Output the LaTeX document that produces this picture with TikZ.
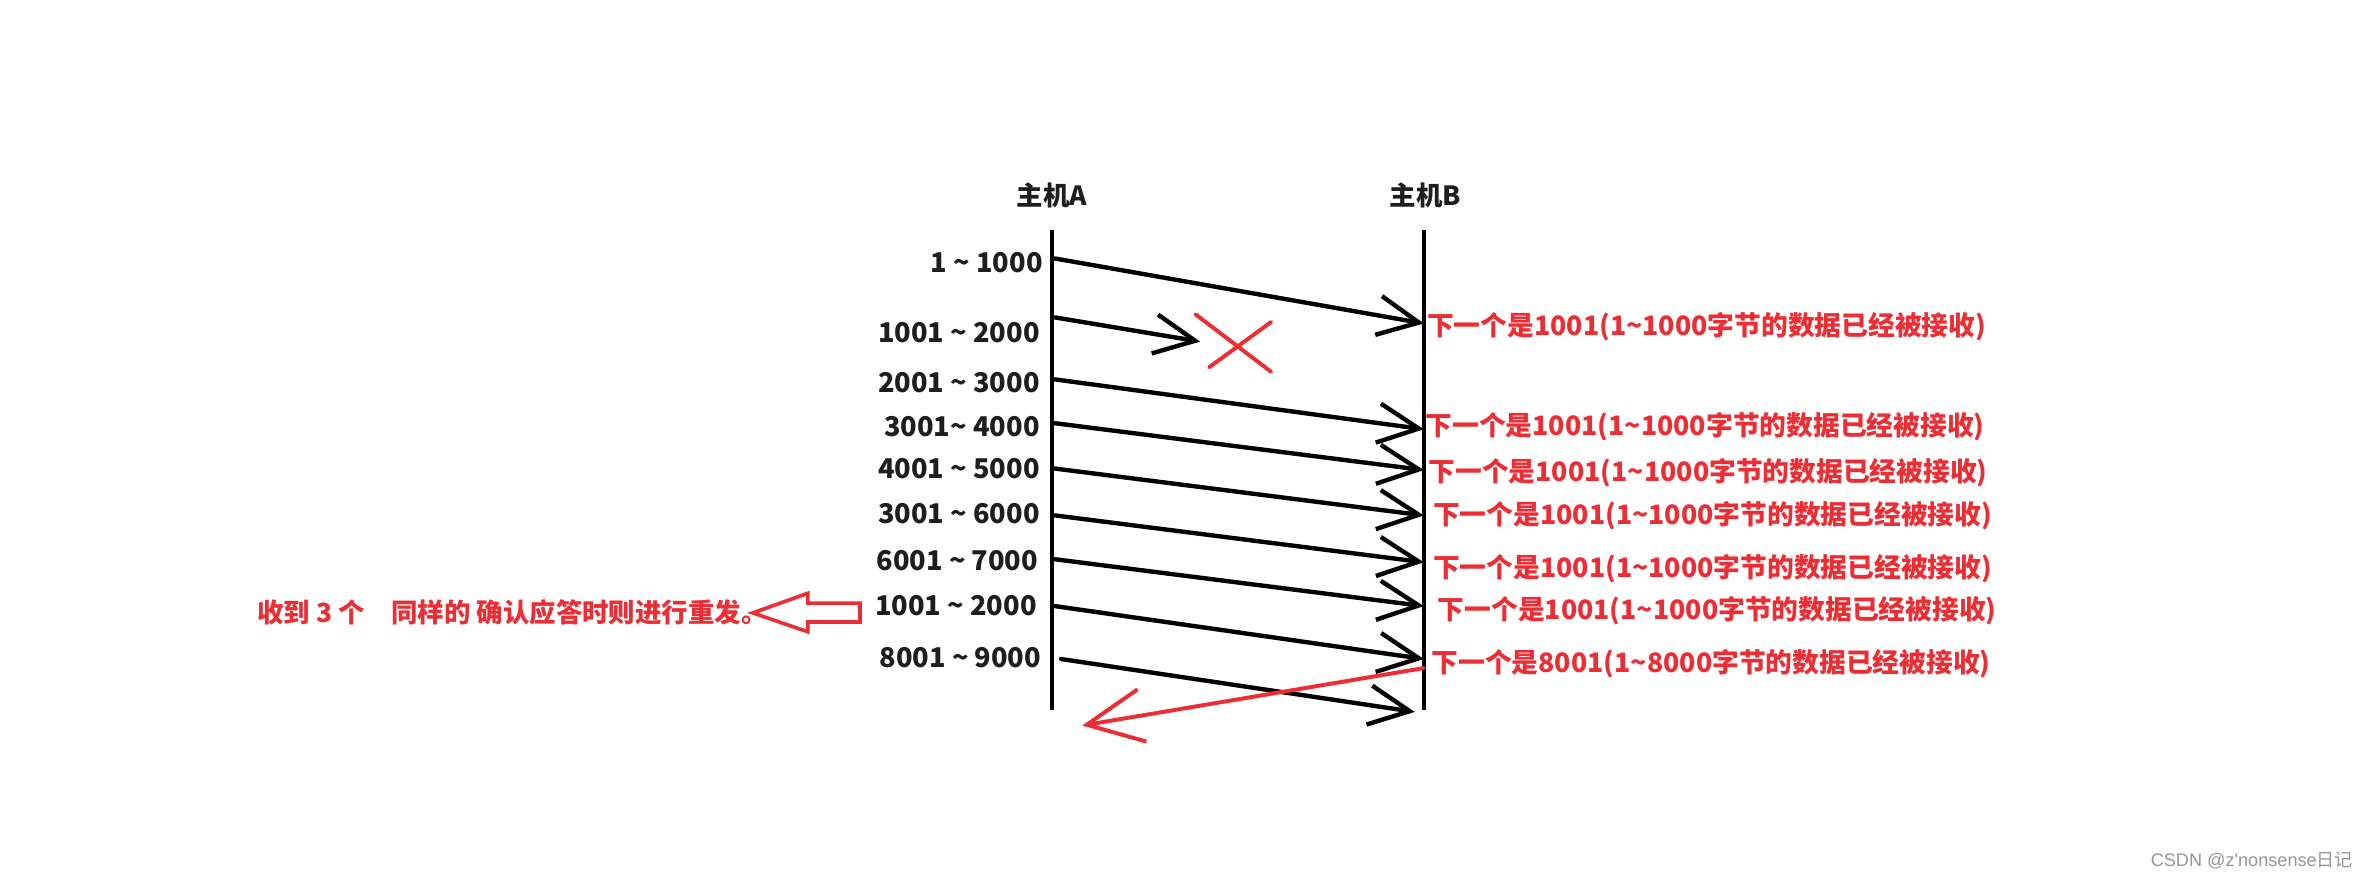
\documentclass[tikz,border=0pt]{standalone}
\usepackage{fontspec}
\setmainfont{Noto Sans CJK SC}
\newfontfamily\wmfont{Liberation Sans}
\usetikzlibrary{arrows.meta}
\definecolor{ink}{RGB}{30,30,30}
\definecolor{mark}{RGB}{237,45,52}
\definecolor{wmgray}{RGB}{150,150,150}
\begin{document}
\begin{tikzpicture}[x=1pt,y=-1pt,
  life/.style={line width=3pt, draw=black},
  msg/.style={line width=2.9pt, draw=black, line cap=round,
    -{Straight Barb[length=27pt,width=26pt]}},
  ack/.style={line width=2.6pt, draw=mark, line cap=round,
    -{Straight Barb[length=37pt,width=35pt]}},
  cross/.style={line width=2.6pt, draw=mark, line cap=round},
  hostlbl/.style={font=\bfseries\fontsize{17.5}{17.5}\selectfont, text=ink, inner sep=0pt},
  seglbl/.style={font=\bfseries\fontsize{18}{18}\selectfont, text=ink, anchor=east, inner sep=0pt},
  acklbl/.style={font=\bfseries\fontsize{17.7}{17.7}\selectfont, text=mark, anchor=west, inner sep=0pt},
  note/.style={font=\bfseries\fontsize{17.5}{17.5}\selectfont, text=mark, anchor=west, inner sep=0pt},
  wmark/.style={font=\fontsize{12}{12}\selectfont, text=wmgray, anchor=east, inner sep=0pt}]
\useasboundingbox (0,0) rectangle (1568,581);
\fill[white] (0,0) rectangle (1568,581);

% hosts
\node[hostlbl] (hA) at (696,129) {主机A};
\node[hostlbl] (hB) at (943,129) {主机B};
\coordinate (Atop) at (696,152);
\coordinate (Abot) at (696,470);
\coordinate (Btop) at (942,152);
\coordinate (Bbot) at (942,470);
\draw[life] (Atop) -- (Abot);
\draw[life] (Btop) -- (Bbot);

% segment labels
\node[seglbl] (l1) at (690,174) {1 \textasciitilde{} 1000};
\node[seglbl] (l2) at (688,220) {1001 \textasciitilde{} 2000};
\node[seglbl] (l3) at (688,253) {2001 \textasciitilde{} 3000};
\node[seglbl] (l4) at (688,282) {3001\textasciitilde{} 4000};
\node[seglbl] (l5) at (688,310) {4001 \textasciitilde{} 5000};
\node[seglbl] (l6) at (688,340) {3001 \textasciitilde{} 6000};
\node[seglbl] (l7) at (687,371) {6001 \textasciitilde{} 7000};
\node[seglbl] (l8) at (686,401) {1001 \textasciitilde{} 2000};
\node[seglbl] (l9) at (689,435) {8001 \textasciitilde{} 9000};

% message end points
\coordinate (s1) at (698,171); \coordinate (e1) at (942,214);
\coordinate (s2) at (698,210); \coordinate (e2) at (794,226);
\coordinate (s3) at (698,251); \coordinate (e3) at (942,284);
\coordinate (s4) at (698,280); \coordinate (e4) at (942,311);
\coordinate (s5) at (698,310); \coordinate (e5) at (942,341);
\coordinate (s6) at (698,341); \coordinate (e6) at (942,372);
\coordinate (s7) at (698,370); \coordinate (e7) at (942,401);
\coordinate (s8) at (698,401); \coordinate (e8) at (942,436);
\coordinate (s9) at (702,436); \coordinate (e9) at (936,471);
\foreach \i in {1,...,9} { \draw[msg] (s\i) -- (e\i); }

% lost segment cross
\draw[cross] (791,208) -- (841,246);
\draw[cross] (800,243) -- (841,213);

% acknowledgements
\node[acklbl] (a1) at (944,216) {下一个是1001(1\textasciitilde1000字节的数据已经被接收)};
\node[acklbl] (a2) at (943,282) {下一个是1001(1\textasciitilde1000字节的数据已经被接收)};
\node[acklbl] (a3) at (945,313) {下一个是1001(1\textasciitilde1000字节的数据已经被接收)};
\node[acklbl] (a4) at (948,341) {下一个是1001(1\textasciitilde1000字节的数据已经被接收)};
\node[acklbl] (a5) at (948,376) {下一个是1001(1\textasciitilde1000字节的数据已经被接收)};
\node[acklbl] (a6) at (951,404) {下一个是1001(1\textasciitilde1000字节的数据已经被接收)};
\node[acklbl] (a7) at (947,439) {下一个是8001(1\textasciitilde8000字节的数据已经被接收)};

% retransmit ack arrow
\coordinate (r0) at (942,442);
\coordinate (r1) at (716,480);
\draw[ack] (r0) -- (r1);

% note and block arrow
\node[note] (nt) at (170,405) {收到 3 个　同样的 确认应答时则进行重发。};
\draw[draw=mark, line width=2.4pt, line join=miter]
  (498,405.5) -- (534.5,392.5) -- (534.5,399) -- (569,399) -- (569,411.5)
  -- (534.5,411.5) -- (534.5,418) -- cycle;

% watermark
\node[wmark] (wm) at (1557,569) {{\wmfont CSDN @z\char39 nonsense}日记};
\end{tikzpicture}
\end{document}
